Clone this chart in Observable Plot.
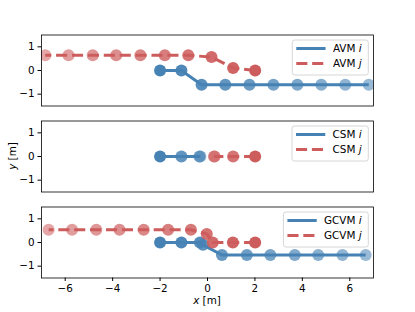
<!DOCTYPE html>
<html><head><meta charset="utf-8">
<script src="https://cdn.jsdelivr.net/npm/d3@7"></script>
<script src="https://cdn.jsdelivr.net/npm/@observablehq/plot@0.6"></script>
<style>
body{margin:0;background:#fff;}
#chart{position:relative;width:415px;height:312px;font-family:"DejaVu Sans",sans-serif;}
#chart svg{position:absolute;left:0;top:0;overflow:visible;}
</style></head><body><div id="chart"></div>
<script>
const xTicks = [-6, -4, -2, 0, 2, 4, 6];
const yTicks = [-1, 0, 1];
const models = ["AVM", "CSM", "GCVM"];

// AVM
const avmIx = [-2, -1.1, -0.25, 0.75, 1.77, 2.78, 3.79, 4.8, 5.81, 6.8];
const avmIy = [0, 0, -0.6, -0.6, -0.6, -0.6, -0.6, -0.6, -0.6, -0.6];
const avmJx = [2.01, 1.08, 0.17, -0.81, -1.8, -2.83, -3.85, -4.84, -5.86, -6.84];
const avmJy = [0, 0.11, 0.57, 0.64, 0.64, 0.64, 0.64, 0.64, 0.64, 0.64];
// CSM
const csmIx = [-2, -1.1, -0.34, -0.3];
const csmIy = [0, 0, 0, 0];
const csmJx = [2.01, 1.08, 0.3, 0.27];
const csmJy = [0, 0, 0, 0];
// GCVM
const gcvmIx = [-2, -1.1, -0.32, -0.19, 0.61, 1.66, 2.65, 3.68, 4.67, 5.69, 6.67];
const gcvmIy = [0, 0, 0, -0.1, -0.53, -0.53, -0.53, -0.53, -0.53, -0.53, -0.53];
const gcvmJx = [2.01, 1.07, 0.22, -0.03, -0.7, -1.66, -2.69, -3.71, -4.69, -5.71, -6.7];
const gcvmJy = [0, 0, 0, 0.36, 0.54, 0.54, 0.54, 0.54, 0.54, 0.54, 0.54];

const series = {
  AVM: {i: [avmIx, avmIy], j: [avmJx, avmJy]},
  CSM: {i: [csmIx, csmIy], j: [csmJx, csmJy]},
  GCVM: {i: [gcvmIx, gcvmIy], j: [gcvmJx, gcvmJy]}
};

const W = 415, H = 312;
const left = 41, right = 373;
const panelH = 71, gap = 15, firstTop = 34.5;
const blue = "#4682b4", red = "#cd5c5c";
const FONT = "DejaVu Sans, sans-serif";

function rows(xs, ys) {
  return xs.map((x, k) => ({x, y: ys[k], o: 1 - 0.45 * k / (xs.length - 1)}));
}

const container = document.getElementById("chart");

models.forEach((m, p) => {
  const top = firstTop + p * (panelH + gap);
  const bottom = top + panelH;
  const last = p === models.length - 1;
  const I = rows(...series[m].i);
  const J = rows(...series[m].j);
  const svg = Plot.plot({
    width: W, height: H,
    marginLeft: left, marginRight: W - right,
    marginTop: top, marginBottom: H - bottom,
    style: {fontSize: "10.4px", fontFamily: FONT, background: "transparent", color: "black", overflow: "visible"},
    x: {domain: [-7, 7]},
    y: {domain: [-1.5, 1.5]},
    opacity: {type: "identity"},
    marks: [
      Plot.axisY({ticks: yTicks, tickSize: 3.5, tickPadding: 3.5, tickFormat: d3.format("d"), label: null}),
      last ? Plot.axisX({ticks: xTicks, tickSize: 3.5, tickPadding: 3.5, tickFormat: d3.format("d"), label: null})
           : Plot.axisX({ticks: [], label: null}),
      Plot.line(I, {x: "x", y: "y", stroke: blue, strokeWidth: 3, strokeLinecap: "butt", clip: true}),
      Plot.dot(I, {x: "x", y: "y", r: 6, fill: blue, fillOpacity: "o", clip: true}),
      Plot.line(J, {x: "x", y: "y", stroke: red, strokeWidth: 3, strokeDasharray: "11.1,4.8", strokeLinecap: "butt", clip: true}),
      Plot.dot(J, {x: "x", y: "y", r: 6, fill: red, fillOpacity: "o", clip: true}),
      Plot.frame({stroke: "black", strokeWidth: 0.8})
    ]
  });
  container.appendChild(svg);

  // legend
  const g = d3.select(svg).append("g").attr("font-family", FONT).attr("font-size", 10.4).attr("text-anchor", "start");
  const box = g.append("rect");
  const entries = [
    {agent: "i", color: blue, dash: null},
    {agent: "j", color: red, dash: "11.1,4.8"}
  ];
  const texts = entries.map((e, k) => {
    const t = g.append("text").attr("y", top + 14 + 15 * k).attr("dy", "0.35em").attr("fill", "black").attr("text-anchor", "start");
    t.append("tspan").text(m + " ");
    t.append("tspan").attr("font-style", "italic").text(e.agent);
    return t;
  });
  const tw = Math.max(...texts.map(t => t.node().getComputedTextLength()));
  const boxRight = right - 4.7;
  const boxLeft = boxRight - 6.7 - tw - 40.6;
  box.attr("x", boxLeft).attr("y", top + 5.5).attr("width", boxRight - boxLeft).attr("height", 35)
     .attr("rx", 2.5).attr("fill", "white").attr("fill-opacity", 0.8).attr("stroke", "#cccccc").attr("stroke-width", 0.8);
  entries.forEach((e, k) => {
    const yy = top + 14 + 15 * k;
    const ln = g.insert("line", "text").attr("x1", boxLeft + 4).attr("x2", boxLeft + 33.3).attr("y1", yy).attr("y2", yy)
      .attr("stroke", e.color).attr("stroke-width", 3);
    if (e.dash) ln.attr("stroke-dasharray", e.dash);
    texts[k].attr("x", boxLeft + 40.6);
  });

  if (p === 1) {
    const t = d3.select(svg).append("text").attr("transform", `translate(12,${(top + bottom) / 2}) rotate(-90)`)
      .attr("text-anchor", "middle").attr("dy", "0.35em").attr("font-size", 10.4).attr("font-family", FONT);
    t.append("tspan").attr("font-style", "italic").text("y");
    t.append("tspan").text(" [m]");
  }
  if (last) {
    const t = d3.select(svg).append("text").attr("x", (left + right) / 2).attr("y", 300)
      .attr("text-anchor", "middle").attr("dy", "0.35em").attr("font-size", 10.4).attr("font-family", FONT);
    t.append("tspan").attr("font-style", "italic").text("x");
    t.append("tspan").text(" [m]");
  }
});
</script></body></html>
